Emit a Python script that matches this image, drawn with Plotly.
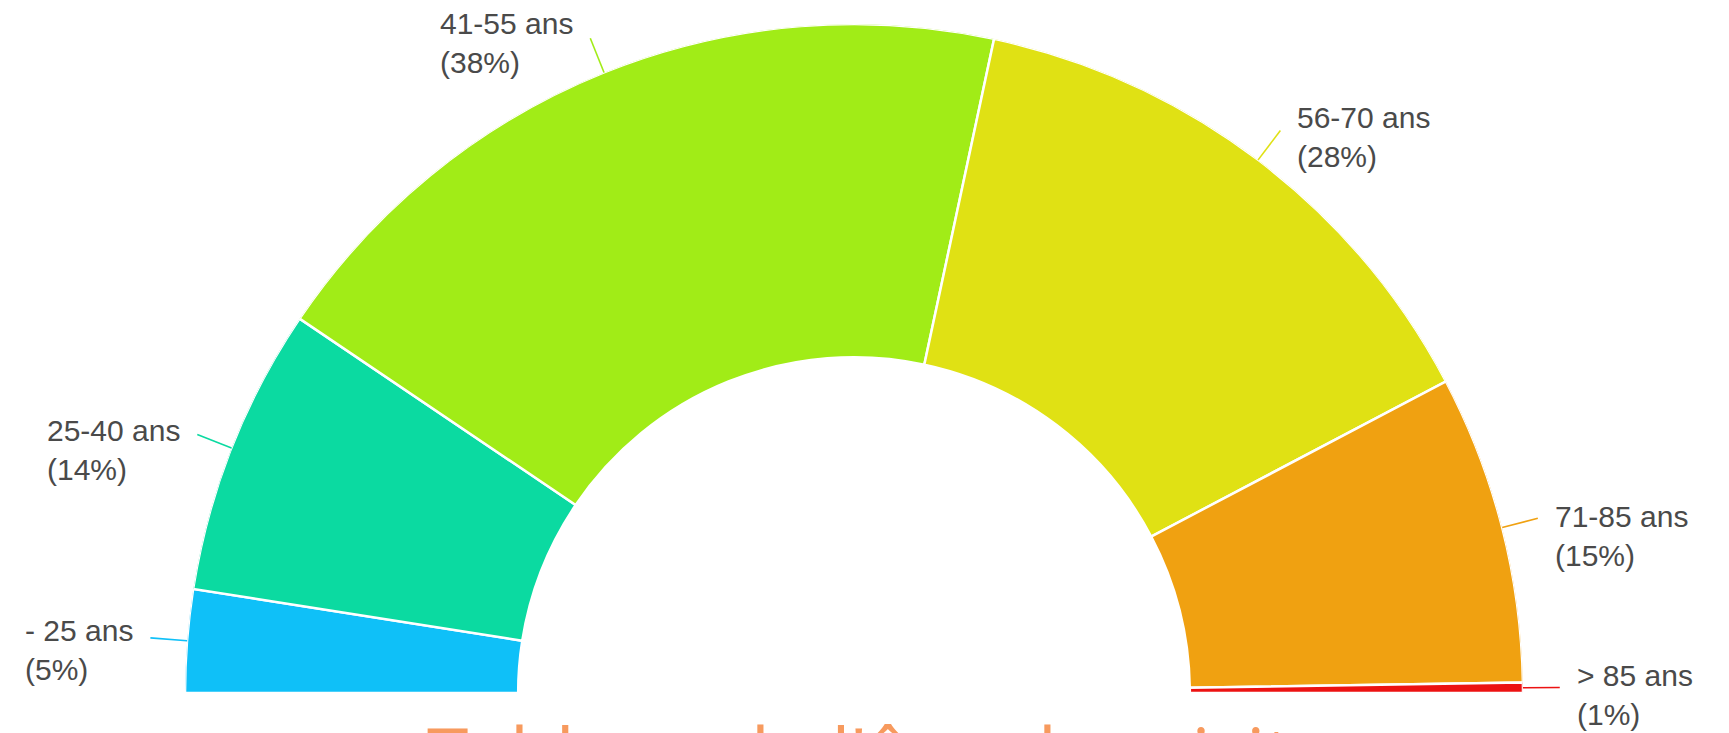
import math
import plotly.graph_objects as go

# ---- data ----
labels = ["- 25 ans", "25-40 ans", "41-55 ans", "56-70 ans", "71-85 ans", "> 85 ans"]
shares = [5, 14, 38, 28, 15, 0.5]          # angular share of the half ring
pct_labels = ["5%", "14%", "38%", "28%", "15%", "1%"]
colors = ["#0fc0f8", "#0bdaa1", "#a1ec17", "#e0e114", "#f0a111", "#ec1212"]

# ---- style ----
HOLE = 0.502          # inner radius / outer radius
LEAD = 1.055          # end of leader line (outer radius = 1)
GAP = 15              # px between leader end and label
label_nudge = [12, 16, 5, 6, 18, 8]   # px downward shift of each label block
TEXT_COLOR = "#4a4a4a"
FONT = "Liberation Sans, Arial, sans-serif"

n = len(labels)
total = sum(shares)
theta, width = [], []
acc = 0.0
for s in shares:
    theta.append((acc + s / 2.0) / total * 180.0)
    width.append(s / total * 180.0)
    acc += s

fig = go.Figure()
fig.add_trace(go.Barpolar(
    r=[1 - HOLE] * n, base=[HOLE] * n, theta=theta, width=width,
    marker=dict(color=colors, line=dict(color="white", width=2.5)),
    text=[f"{l} ({p})" for l, p in zip(labels, pct_labels)],
    hoverinfo="text", showlegend=False,
))


def to_paper(r, theta_deg):
    # polar subplot fills the plot area: x in [-1,1] -> [0,1], y in [0,1]
    phi = math.radians(180.0 - theta_deg)
    return 0.5 + 0.5 * r * math.cos(phi), r * math.sin(phi)


shapes = []
annotations = []
for i in range(n):
    x0, y0 = to_paper(1.0, theta[i])
    x1, y1 = to_paper(LEAD, theta[i])
    shapes.append(dict(type="line", xref="paper", yref="paper",
                       x0=x0, y0=y0, x1=x1, y1=y1,
                       line=dict(color=colors[i], width=1.6)))
    left_side = x1 < 0.5
    annotations.append(dict(
        x=x1, y=y1, xref="paper", yref="paper",
        text=f"{labels[i]}<br>({pct_labels[i]})",
        showarrow=False, align="left",
        xanchor="right" if left_side else "left", yanchor="middle",
        xshift=-GAP if left_side else GAP, yshift=-label_nudge[i],
        font=dict(family=FONT, size=30, color=TEXT_COLOR),
    ))

# cut-off orange caption below the chart (only the tops of its letters show)
annotations.append(dict(
    x=0.179, y=-0.0105, xref="paper", yref="paper",
    text="Tableau de l'âge des visiteurs", showarrow=False,
    xanchor="left", yanchor="top",
    font=dict(family="Open Sans, sans-serif", size=75, color="#f79a5e"),
))

fig.update_layout(
    width=1729, height=733,
    margin=dict(l=185, r=206, t=24, b=40, pad=0),
    paper_bgcolor="white", plot_bgcolor="white",
    showlegend=False,
    polar=dict(
        domain=dict(x=[0, 1], y=[0, 1]),
        sector=[0, 180],
        bgcolor="white",
        angularaxis=dict(visible=False, rotation=180, direction="clockwise",
                         showgrid=False, showline=False, ticks=""),
        radialaxis=dict(visible=False, range=[0, 1], showgrid=False,
                        showline=False, ticks=""),
    ),
    shapes=shapes,
    annotations=annotations,
)

fig.write_html("out.html")
